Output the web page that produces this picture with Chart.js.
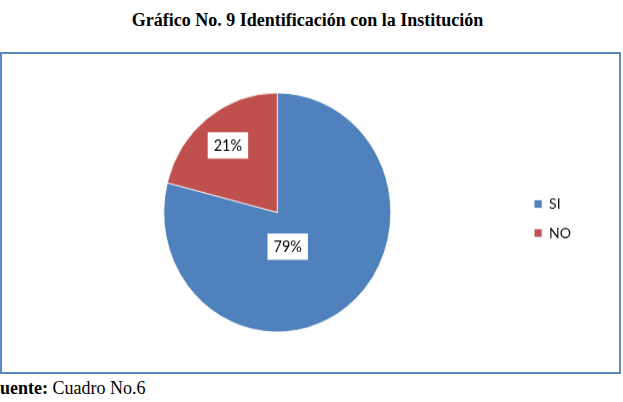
<!DOCTYPE html>
<html>
<head>
<meta charset="utf-8">
<script src="https://cdn.jsdelivr.net/npm/chart.js@4"></script>
<style>
  html, body { margin: 0; padding: 0; background: #fff; }
  body { width: 623px; height: 402px; position: relative; overflow: hidden; }
  #title {
    position: absolute; left: 0; top: 10.5px; width: 615px; text-align: center;
    font: bold 18px "Liberation Serif", "Times New Roman", serif; line-height: 18px; color: #000;
  }
  #frame {
    position: absolute; left: 0; top: 52px; width: 617px; height: 318px;
    border: 2px solid #5b87c2;
  }
  #chart { position: absolute; left: 2px; top: 54px; width: 617px; height: 318px; }
  #source {
    position: absolute; left: -11px; top: 379px; white-space: nowrap;
    font: 18px "Liberation Serif", "Times New Roman", serif; line-height: 18px; color: #000;
  }
</style>
</head>
<body>
<div id="title">Gráfico No. 9 Identificación con la Institución</div>
<div id="frame"></div>
<canvas id="chart" width="617" height="302" style="width:617px;height:318px"></canvas>
<div id="source"><b>Fuente:</b> Cuadro No.6</div>
<script>
const categories = ["SI", "NO"];
const percentages = [79, 21];
const sliceColors = ["#4f81bd", "#c0504d"];

// where each percentage box sits inside its slice (fraction of radius, angle nudge in degrees)
const labelPlacement = [
  { factor: 0.30, nudge: 20 },
  { factor: 0.71, nudge: 0 },
];

const percentLabels = {
  id: "percentLabels",
  afterDatasetsDraw(chart) {
    const { ctx } = chart;
    const meta = chart.getDatasetMeta(0);
    ctx.save();
    ctx.font = "14.5px Lato";
    ctx.textAlign = "center";
    ctx.textBaseline = "middle";
    meta.data.forEach((arc, i) => {
      const { x, y, startAngle, endAngle, outerRadius } = arc.getProps(
        ["x", "y", "startAngle", "endAngle", "outerRadius"], true);
      const place = labelPlacement[i];
      const mid = (startAngle + endAngle) / 2 + place.nudge * Math.PI / 180;
      const r = outerRadius * place.factor;
      const cx = x + Math.cos(mid) * r;
      const cy = y + Math.sin(mid) * r;
      const text = percentages[i] + "%";
      const w = ctx.measureText(text).width + 12;
      const h = 25;
      ctx.fillStyle = "#fff";
      ctx.fillRect(cx - w / 2, cy - h / 2, w, h);
      ctx.fillStyle = "#000";
      ctx.fillText(text, cx, cy + 0.5);
    });
    ctx.restore();
  },
};

Chart.defaults.font.family = "Lato";

new Chart(document.getElementById("chart"), {
  type: "pie",
  data: {
    labels: categories,
    datasets: [
      {
        data: percentages,
        backgroundColor: sliceColors,
        borderColor: "rgba(255,255,255,0.75)",
        borderWidth: 1,
      },
    ],
  },
  options: {
    responsive: false,
    devicePixelRatio: 1,
    animation: false,
    layout: {
      padding: { left: 32, right: 38, top: 36.5, bottom: 37.5 },
    },
    plugins: {
      legend: {
        display: true,
        position: "right",
        title: { display: true, text: "", padding: 0, font: { size: 10, lineHeight: "11.5px" } },
        labels: {
          boxWidth: 8,
          boxHeight: 8,
          padding: 13.5,
          color: "#111",
          font: { size: 14 },
        },
      },
      tooltip: { enabled: false },
    },
  },
  plugins: [percentLabels],
});
</script>
</body>
</html>
